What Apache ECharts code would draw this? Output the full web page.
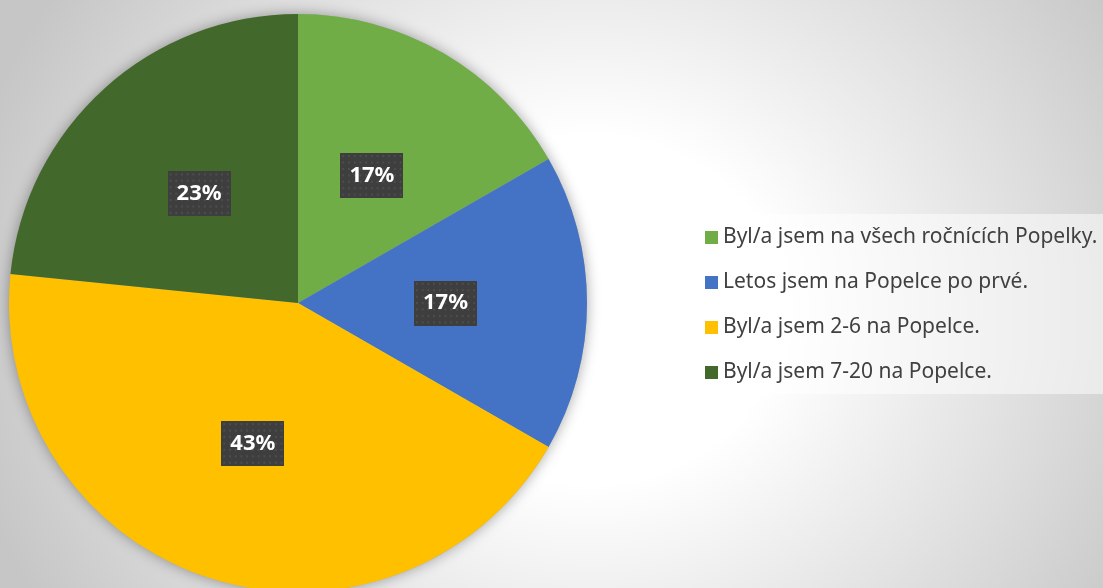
<!DOCTYPE html>
<html>
<head>
<meta charset="utf-8">
<script src="https://cdn.jsdelivr.net/npm/echarts@6/dist/echarts.min.js"></script>
<style>
  html, body { margin: 0; padding: 0; }
  body {
    width: 1103px; height: 588px; overflow: hidden;
    background: radial-gradient(ellipse 640px 580px at 590px 310px, #ffffff 0%, #ffffff 30%, #c6c6c6 100%);
  }
  #main { width: 1103px; height: 588px; }
</style>
</head>
<body>
<div id="main"></div>
<script>
// categories and values (percent)
const categories = [
  'Byl/a jsem na všech ročnících Popelky.',
  'Letos jsem na Popelce po prvé.',
  'Byl/a jsem 2-6 na Popelce.',
  'Byl/a jsem 7-20 na Popelce.'
];
const values = [16.7, 16.6, 43.3, 23.4];
const colors = ['#70ad47', '#4472c4', '#ffc000', '#43682b'];

// dotted dark texture for the labels
function labelTexture() {
  let c = document.createElement('canvas');
  c.width = 66; c.height = 42;
  let ctx = c.getContext('2d');
  ctx.fillStyle = '#3e3e3e';
  ctx.fillRect(0, 0, c.width, c.height);
  ctx.fillStyle = '#4d4d4d';
  for (let y = 2; y < c.height; y += 6) {
    for (let x = 2; x < c.width; x += 6) {
      ctx.fillRect(x, y, 2, 2);
    }
  }
  return c;
}

let chart = echarts.init(document.getElementById('main'));
let data = [];
for (let i = 0; i < categories.length; i++) {
  data.push({ name: categories[i], value: values[i] });
}

let option = {
  animation: false,
  color: colors,
  legend: {
    orient: 'vertical',
    left: 692,
    top: 214,
    padding: [13, 30, 11, 13],
    itemGap: 24,
    itemWidth: 13,
    itemHeight: 13,
    icon: 'rect',
    backgroundColor: 'rgba(255,255,255,0.5)',
    textStyle: {
      color: '#404040',
      fontSize: 21,
      lineHeight: 19,
      fontFamily: 'Noto Sans'
    },
    data: categories
  },
  series: [
    {
      // shadow under the whole pie
      type: 'pie',
      silent: true,
      center: [298, 303],
      radius: 289,
      label: { show: false },
      labelLine: { show: false },
      itemStyle: {
        color: '#aaaaaa',
        shadowBlur: 14,
        shadowColor: 'rgba(0,0,0,0.35)'
      },
      data: [{ name: '', value: 1 }],
      z: 1
    },
    {
      type: 'pie',
      center: [298, 303],
      radius: 289,
      startAngle: 90,
      clockwise: true,
      z: 2,
      itemStyle: { borderWidth: 0 },
      label: {
        show: true,
        position: 'inside',
        formatter: function (p) { return Math.round(p.percent) + '%'; },
        color: '#ffffff',
        fontSize: 22,
        lineHeight: 23,
        fontWeight: 'bold',
        fontFamily: 'Noto Sans',
        backgroundColor: { image: labelTexture() },
        padding: [11, 9, 11, 9],
        shadowBlur: 6,
        shadowOffsetX: 3,
        shadowOffsetY: 3,
        shadowColor: 'rgba(0,0,0,0.45)'
      },
      labelLine: { show: false },
      data: data
    }
  ]
};
chart.setOption(option);
window.addEventListener('resize', chart.resize);
</script>
</body>
</html>
